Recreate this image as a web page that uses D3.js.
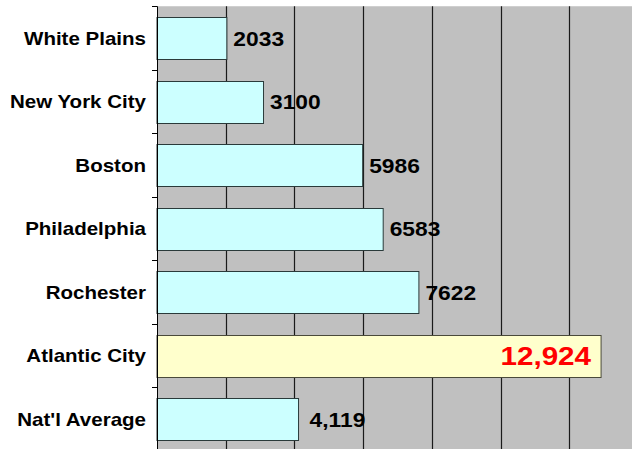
<!DOCTYPE html>
<html>
<head>
<meta charset="utf-8">
<script src="https://cdn.jsdelivr.net/npm/d3@7"></script>
<style>
	body { margin: 0; background: #fff; }
	text { font-family: Arial, "Liberation Sans", sans-serif; font-weight: bold; }
</style>
</head>
<body>
<div id="chart"></div>
<script>
// chart values
let cities = ["White Plains", "New York City", "Boston", "Philadelphia", "Rochester", "Atlantic City", "Nat'l Average"];
let values = [2033, 3100, 5986, 6583, 7622, 12924, 4119];
let valueLabels = ["2033", "3100", "5986", "6583", "7622", "12,924", "4,119"];
let highlightCity = "Atlantic City";
let xTicks = [0, 2000, 4000, 6000, 8000, 10000, 12000, 14000];

let width = 632;
let height = 449;
let plotLeft = 157, plotTop = 6.25, plotBottom = 450.75;
let stretch = 1.14; // text in the picture is a bit wider than normal

const svg = d3.select('#chart')
	.append("svg")
	.attr("width", width)
	.attr("height", height);

let x = d3.scaleLinear()
	.domain([0, 14000])
	.range([plotLeft, plotLeft + 14000 * 0.03436]);

let y = d3.scaleBand()
	.domain(cities)
	.range([plotTop, plotBottom])
	.paddingInner(0.34)
	.paddingOuter(0.17);

// plot background
svg.append("rect")
	.attr("x", x(0))
	.attr("y", plotTop)
	.attr("width", x(14000) - x(0))
	.attr("height", plotBottom - plotTop)
	.attr("fill", "#c0c0c0");

// vertical gridlines
svg.append("g")
	.selectAll("line")
	.data(xTicks.slice(1))
	.join("line")
	.attr("x1", d => Math.round(x(d)) + 0.5)
	.attr("x2", d => Math.round(x(d)) + 0.5)
	.attr("y1", plotTop)
	.attr("y2", plotBottom)
	.attr("stroke", "#1a1a1a")
	.attr("stroke-width", 1.2);

// bars
svg.append("g")
	.selectAll("rect")
	.data(cities)
	.join("rect")
	.attr("x", x(0))
	.attr("y", d => Math.round(y(d)) + 0.5)
	.attr("width", (d, i) => x(values[i]) - x(0))
	.attr("height", Math.round(y.bandwidth()))
	.attr("fill", d => d === highlightCity ? "#ffffcc" : "#ccffff")
	.attr("stroke", d => d === highlightCity ? "#4a4a3a" : "#2a3a3a")
	.attr("stroke-width", 1);

// left axis line and ticks between categories
let gap = y.step() - y.bandwidth();
let boundaries = cities.map(d => y(d) - gap / 2);
boundaries.push(plotBottom);

svg.append("line")
	.attr("x1", plotLeft + 0.5)
	.attr("x2", plotLeft + 0.5)
	.attr("y1", plotTop)
	.attr("y2", plotBottom)
	.attr("stroke", "#000");

svg.append("g")
	.selectAll("line")
	.data(boundaries)
	.join("line")
	.attr("x1", plotLeft - 5)
	.attr("x2", plotLeft)
	.attr("y1", d => Math.round(d) + 0.5)
	.attr("y2", d => Math.round(d) + 0.5)
	.attr("stroke", "#000");

// category labels
svg.append("g")
	.selectAll("text")
	.data(cities)
	.join("text")
	.attr("transform", d => `translate(146,${y(d) + y.bandwidth() / 2 + 6.5}) scale(${stretch},1)`)
	.attr("text-anchor", "end")
	.attr("font-size", 18)
	.attr("fill", "#000")
	.text(d => d);

// value labels
svg.append("g")
	.selectAll("text")
	.data(cities)
	.join("text")
	.attr("transform", (d, i) => {
		let cy = y(d) + y.bandwidth() / 2;
		if (d === highlightCity) {
			return `translate(${x(values[i]) - 10},${cy + 9.5}) scale(${stretch},1)`;
		}
		let pad = valueLabels[i].includes(",") ? 11 : 6.5;
		return `translate(${x(values[i]) + pad},${cy + 7.8}) scale(${stretch},1)`;
	})
	.attr("text-anchor", d => d === highlightCity ? "end" : "start")
	.attr("font-size", d => d === highlightCity ? 26 : 20)
	.attr("fill", d => d === highlightCity ? "#ff0000" : "#000")
	.text((d, i) => valueLabels[i]);
</script>
</body>
</html>
